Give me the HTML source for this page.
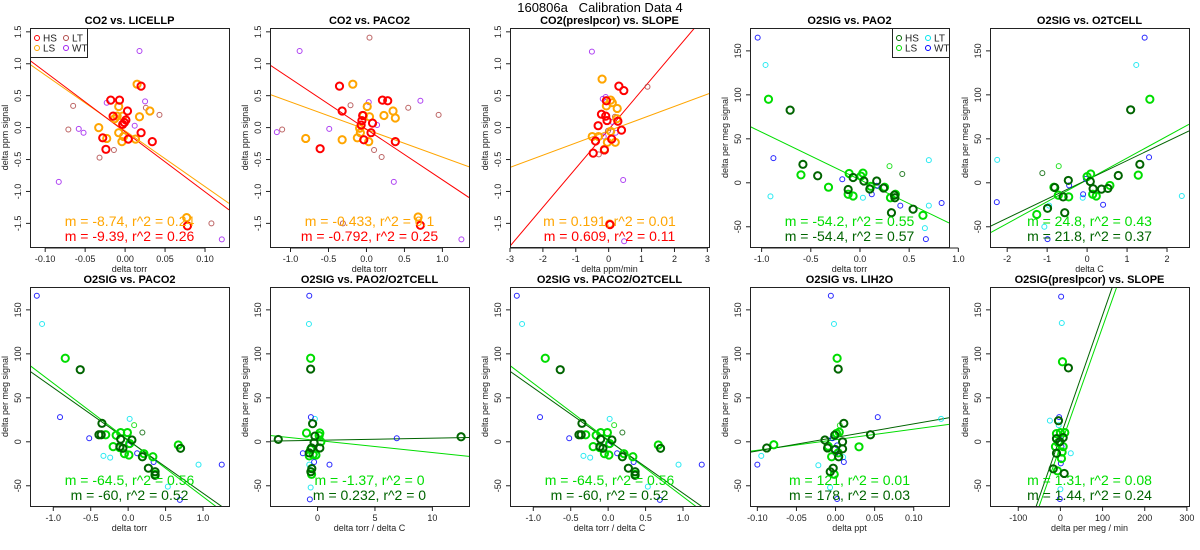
<!DOCTYPE html>
<html><head><meta charset="utf-8"><style>
html,body{margin:0;padding:0;background:#fff;width:1200px;height:550px;overflow:hidden;}
svg{display:block;font-family:"Liberation Sans",sans-serif;}
</style></head><body>
<svg id="c" width="1200" height="550" viewBox="0 0 1200 550">
<text x="600" y="12" text-anchor="middle" font-size="13" style="white-space:pre">160806a   Calibration Data 4</text>
</svg>
<script>
// ---------- data ----------
const p1_HS=[[-0.018,0.43],[-0.007,0.43],[0.020,0.65],[-0.015,0.18],[0.003,0.26],[0.001,0.12],[-0.003,0.05],[-0.001,0.08],[0.02,-0.08],[-0.028,-0.16],[-0.024,-0.34],[0.004,-0.18],[0.034,-0.22],[0.078,-1.54]];
const p1_LS=[[0.015,0.68],[-0.008,0.33],[-0.01,0.18],[-0.003,0.18],[0.018,0.17],[0.031,0.26],[-0.033,0],[-0.023,-0.17],[-0.008,-0.08],[-0.002,-0.14],[-0.004,-0.22],[0.013,-0.18],[0.077,-1.41],[-0.013,0.14]];
const p1_LT=[[-0.065,0.34],[-0.071,-0.03],[0.026,0.31],[0.043,0.2],[-0.032,-0.47],[-0.014,-0.35],[0.108,-1.5]];
const p1_WT=[[0.018,1.2],[-0.023,0.39],[0.025,0.41],[-0.058,-0.02],[-0.052,-0.08],[0.012,0.03],[-0.083,-0.85],[0.121,-1.75]];
const p1_fits=[[-8.74,-0.05],[-9.39,-0.067]];

const p2_HS=[[-0.355,0.65],[-0.32,0.26],[-0.61,-0.33],[-0.05,0.19],[-0.06,0.11],[-0.07,0.04],[0.08,0.07],[0.06,-0.08],[-0.035,-0.19],[0.21,0.43],[0.28,0.42],[0.38,-0.22],[0.71,-1.53]];
const p2_LS=[[-0.18,0.68],[0.01,0.33],[0.04,0.17],[-0.04,0.19],[0.23,0.19],[0.35,0.26],[0.38,0.15],[-0.09,-0.01],[-0.08,-0.08],[-0.12,-0.16],[0.03,-0.22],[-0.32,-0.19],[-0.8,-0.17],[0.68,-1.4]];
const p2_LT=[[0.04,1.41],[-0.21,0.35],[0.55,0.31],[0.95,0.2],[-1.11,-0.03],[0.2,-0.46],[0.1,-0.35],[-0.31,-1.5]];
const p2_WT=[[-0.88,1.2],[0.03,0.4],[0.71,0.42],[0.14,0.04],[-0.49,-0.02],[-1.18,-0.07],[0.36,-0.85],[1.25,-1.75]];
const p2_fits=[[-0.433,-0.03],[-0.792,-0.026]];

const p3_HS=[[0.31,0.65],[0.46,0.58],[-0.07,0.42],[-0.22,0.21],[-0.09,0.18],[-0.05,0.11],[-0.32,0.03],[0.28,0.1],[0.39,-0.04],[0.09,-0.18],[-0.4,-0.21],[-0.13,-0.35],[-0.47,-0.4],[0.04,-1.52]];
const p3_LS=[[-0.2,0.76],[0.06,0.43],[0.11,0.39],[-0.07,0.34],[0.26,0.3],[0.25,0.14],[0.06,-0.06],[-0.5,-0.14],[-0.31,-0.14],[-0.04,-0.23],[0.2,-0.23],[-0.13,-0.34],[0.03,-1.51]];
const p3_LT=[[1.18,0.64],[0.19,0.17],[-0.02,-0.05],[-0.3,-0.42]];
const p3_WT=[[-0.51,1.19],[-0.09,0.48],[-0.18,0.45],[0.11,0.09],[0.21,-0.08],[-0.15,-0.14],[0.44,-0.82],[0.47,-1.78]];
const p3_fits=[[0.191,-0.05],[0.609,-0.03]];

const p4_HS=[[-0.71,82.6],[-0.58,21],[-0.43,8],[-0.07,6],[-0.12,-7.6],[0.04,2],[0.1,-7],[0.17,2],[0.24,-6],[0.35,-14],[0.355,-17],[0.32,-34],[0.54,-30]];
const p4_LS=[[-0.93,95],[-0.6,9],[-0.32,-5],[-0.11,10.6],[-0.12,-13],[-0.07,-15],[0.01,7.6],[0.03,11],[0.11,-4],[0.25,-5],[0.31,-17],[0.36,-13],[0.64,-37]];
const p4_LT=[[-0.96,134],[-0.91,-15.5],[0.03,-17],[0.70,25.8],[0.70,-26],[0.66,-51.5]];
const p4_WT=[[-1.04,165],[-0.88,28],[-0.18,4],[0.12,-13],[0.17,-3.4],[0.41,-26],[0.83,-23],[0.67,-64]];
const p4_X=[[0.30,19]];
const p4_Y=[[0.43,10]];
const p4_fits=[[-54.2,3.4]];

const p5_HS=[[1.09,83],[1.32,21],[0.78,8.3],[-0.47,2.7],[0.08,1.5],[0.15,-6.8],[0.36,-7.2],[0.52,-6.4],[-0.81,-5.3],[-0.6,-16],[-0.99,-29],[-0.56,-34]];
const p5_LS=[[1.57,95],[1.28,8.7],[0.09,10],[0.0,7],[-0.83,-5],[-0.72,-14],[-0.46,-16],[0.14,-13],[0.23,-15],[0.57,-3],[-1.26,-36]];
const p5_LT=[[-2.25,26],[1.23,134],[2.37,-15],[-0.11,-17],[-0.95,-26],[-1.07,-50]];
const p5_WT=[[1.44,165],[1.55,29],[-2.26,-22],[-0.45,-3],[-0.03,4.5],[-0.1,-13],[0.4,-25],[-0.99,-64]];
const p5_X=[[-0.71,19]];
const p5_Y=[[-1.12,11]];
const p5_fits=[[24.8,3.3],[21.8,3.4]];

const p6_HS=[[-0.64,82],[-0.35,21],[-0.39,8],[-0.36,8],[-0.1,3],[0.05,2],[-0.11,-5.5],[-0.07,-7.4],[0.19,-17],[0.27,-30],[0.36,-34],[0.36,-38],[0.70,-7.4]];
const p6_LS=[[-0.84,95],[-0.3,8],[-0.16,7.4],[-0.1,10.5],[-0.01,10.5],[-0.2,-5.5],[-0.11,-6.7],[-0.05,-13.5],[0.01,-15],[0.02,-2],[0.21,-13.5],[0.33,-17],[0.36,-37],[0.67,-3.6]];
const p6_LT=[[-1.15,134],[0.02,26],[-0.33,-16],[-0.24,-18],[0.53,-51],[0.94,-26]];
const p6_WT=[[-1.22,166],[-0.91,28],[-0.52,4],[0.01,-3.6],[0.12,-13],[0.34,-23],[0.69,-66],[1.25,-26]];
const p6_X=[[0.08,19]];
const p6_Y=[[0.19,10.5]];
const p6_fits=[[-64.5,2.1],[-60,1.5]];

const p7_HS=[[-3.42,2.7],[12.5,5.7],[-0.6,82.7],[-0.43,20.6],[-0.52,-7],[-0.3,-1],[0.2,-7],[-0.5,-30.5],[-0.58,-34],[-0.72,-12.6],[-0.23,6.5]];
const p7_LS=[[-0.6,95],[-0.96,10],[0.2,10],[0.14,7],[-0.72,-16],[-0.38,-14.5],[-0.14,-15],[0.29,0],[-0.52,-37],[-0.6,-8.8]];
const p7_LT=[[-0.75,134],[-0.23,26],[-0.72,-26],[-0.6,-52],[-0.23,-14.5]];
const p7_WT=[[-0.72,166],[-0.58,28],[6.9,4],[-1.28,-13],[-0.3,-23],[1.04,-26],[-0.67,-65.5]];
const p7_fits=[[-1.37,1.5],[0.232,1.76]];

const p9_HS=[[-0.088,-7],[0.0034,82.7],[0.0106,21],[-0.0136,2],[-0.0102,-7],[-0.0004,-8.8],[0.009,-8],[0.009,0],[-0.003,-30],[-0.0068,-34],[0.004,-17],[0.0447,8],[-0.001,7.6]];
const p9_LS=[[-0.079,-3.4],[0.002,95],[0.0013,9.5],[0.0047,11],[-0.005,-17],[-0.0017,-37],[0.03,-5.7],[-0.0094,-5],[0.0034,-12.6]];
const p9_LT=[[-0.002,134],[-0.095,-16],[-0.022,-26.7],[-0.007,-52],[0.135,26],[0.0098,-17.5]];
const p9_WT=[[-0.006,166],[-0.1,-26],[0.054,28],[-0.004,4],[0.002,-4],[0,-13],[0.0106,-23],[0.002,-65]];
const p9_X=[[0.0055,18.7]];
const p9_fits=[[120,2.4],[154,5.0]];

const p10_HS=[[19,84],[-4.6,24],[-9.3,3.6],[6.5,4.8],[-9.3,-13],[-17,-30.7],[9,-36],[-1.4,0]];
const p10_LS=[[4.9,91],[-9.3,9.3],[0,10.5],[10.4,10.5],[-11.7,-5.5],[6.5,-5.5],[4,-11.6],[2.5,-19],[-7,-33],[-5,-1]];
const p10_LT=[[3.3,135],[-25,24],[-4,19],[24.6,-13],[0,-54]];
const p10_WT=[[1.7,165],[-3,28],[-1.4,3.6],[2.5,-5.5],[1,-24.6],[-1.4,-65]];
const p10_fits=[[1.355,-5],[1.38,6]];

const co2Ticks=[-1.5,-1.0,-0.5,0.0,0.5,1.0,1.5];
const o2Ticks=[-50,0,50,100,150];
const co2Labels=["-1.5","-1.0","-0.5","0.0","0.5","1.0","1.5"];
const o2Labels=["-50","0","50","100","150"];

const p1_xt=[-0.10,-0.05,0.00,0.05,0.10], p1_xl=["-0.10","-0.05","0.00","0.05","0.10"];
const p2_xt=[-1.0,-0.5,0,0.5,1.0], p2_xl=["-1.0","-0.5","0.0","0.5","1.0"];
const p3_xt=[-3,-2,-1,0,1,2,3], p3_xl=["-3","-2","-1","0","1","2","3"];
const p5_xt=[-2,-1,0,1,2], p5_xl=["-2","-1","0","1","2"];
const p7_xt=[0,5,10], p7_xl=["0","5","10"];
const p9_xt=[-0.10,-0.05,0.00,0.05,0.10], p9_xl=["-0.10","-0.05","0.00","0.05","0.10"];
const p10_xt=[-100,0,100,200,300], p10_xl=["-100","0","100","200","300"];

const fitTexts1=["m = -8.74, r^2 = 0.24","m = -9.39, r^2 = 0.26"];
const fitTexts2=["m = -0.433, r^2 = 0.1","m = -0.792, r^2 = 0.25"];
const fitTexts3=["m = 0.191, r^2 = 0.01","m = 0.609, r^2 = 0.11"];
const fitTexts4=["m = -54.2, r^2 = 0.55","m = -54.4, r^2 = 0.57"];
const fitTexts5=["m = 24.8, r^2 = 0.43","m = 21.8, r^2 = 0.37"];
const fitTexts6=["m = -64.5, r^2 = 0.56","m = -60, r^2 = 0.52"];
const fitTexts7=["m = -1.37, r^2 = 0","m = 0.232, r^2 = 0"];
const fitTexts9=["m = 121, r^2 = 0.01","m = 178, r^2 = 0.03"];
const fitTexts10=["m = 1.31, r^2 = 0.08","m = 1.44, r^2 = 0.24"];

// ---------- rendering ----------
const NS="http://www.w3.org/2000/svg";
const svg=document.getElementById('c');
function mk(tag,attrs,parent){const e=document.createElementNS(NS,tag);for(const k in attrs)e.setAttribute(k,attrs[k]);(parent||svg).appendChild(e);return e;}

const RED='#ff0000',ORG='#ffa500',BRN='#b04848',PUR='#a020f0';
const DGR='#006400',BGR='#00dd00',CYN='#00e5ee',BLU='#0000ff';
const CO2Y=[-1.87,1.56], O2Y=[-73,176];

const panels=[
 {c:0,r:0,title:'CO2 vs. LICELLP',xlab:'delta torr',ylab:'delta ppm signal',xlim:[-0.119,0.13],ylim:CO2Y,xt:p1_xt,xl:p1_xl,yt:co2Ticks,yl:co2Labels,
  groups:[[p1_LT,BRN,0],[p1_WT,PUR,0],[p1_LS,ORG,1],[p1_HS,RED,1]],fits:[[p1_fits[0],ORG],[p1_fits[1],RED]],txt:[[fitTexts1[0],ORG],[fitTexts1[1],RED]],legend:'left'},
 {c:1,r:0,title:'CO2 vs. PACO2',xlab:'delta torr',ylab:'delta ppm signal',xlim:[-1.27,1.35],ylim:CO2Y,xt:p2_xt,xl:p2_xl,yt:co2Ticks,yl:co2Labels,
  groups:[[p2_LT,BRN,0],[p2_WT,PUR,0],[p2_LS,ORG,1],[p2_HS,RED,1]],fits:[[p2_fits[0],ORG],[p2_fits[1],RED]],txt:[[fitTexts2[0],ORG],[fitTexts2[1],RED]]},
 {c:2,r:0,title:'CO2(preslpcor) vs. SLOPE',xlab:'delta ppm/min',ylab:'delta ppm signal',xlim:[-3.0,3.05],ylim:CO2Y,xt:p3_xt,xl:p3_xl,yt:co2Ticks,yl:co2Labels,
  groups:[[p3_LT,BRN,0],[p3_WT,PUR,0],[p3_LS,ORG,1],[p3_HS,RED,1]],fits:[[p3_fits[0],ORG],[p3_fits[1],RED]],txt:[[fitTexts3[0],ORG],[fitTexts3[1],RED]]},
 {c:3,r:0,title:'O2SIG vs. PAO2',xlab:'delta torr',ylab:'delta per meg signal',xlim:[-1.118,0.905],ylim:O2Y,xt:p2_xt,xl:p2_xl,yt:o2Ticks,yl:o2Labels,
  groups:[[p4_LT,CYN,0],[p4_WT,BLU,0],[p4_X,BGR,0],[p4_Y,DGR,0],[p4_LS,BGR,1],[p4_HS,DGR,1]],fits:[[p4_fits[0],BGR]],txt:[[fitTexts4[0],BGR],[fitTexts4[1],DGR]],legend:'right'},
 {c:4,r:0,title:'O2SIG vs. O2TCELL',xlab:'delta C',ylab:'delta per meg signal',xlim:[-2.43,2.55],ylim:O2Y,xt:p5_xt,xl:p5_xl,yt:o2Ticks,yl:o2Labels,
  groups:[[p5_LT,CYN,0],[p5_WT,BLU,0],[p5_X,BGR,0],[p5_Y,DGR,0],[p5_LS,BGR,1],[p5_HS,DGR,1]],fits:[[p5_fits[0],BGR],[p5_fits[1],DGR]],txt:[[fitTexts5[0],BGR],[fitTexts5[1],DGR]]},
 {c:0,r:1,title:'O2SIG vs. PACO2',xlab:'delta torr',ylab:'delta per meg signal',xlim:[-1.311,1.347],ylim:O2Y,xt:p2_xt,xl:p2_xl,yt:o2Ticks,yl:o2Labels,
  groups:[[p6_LT,CYN,0],[p6_WT,BLU,0],[p6_X,BGR,0],[p6_Y,DGR,0],[p6_LS,BGR,1],[p6_HS,DGR,1]],fits:[[p6_fits[0],BGR],[p6_fits[1],DGR]],txt:[[fitTexts6[0],BGR],[fitTexts6[1],DGR]]},
 {c:1,r:1,title:'O2SIG vs. PAO2/O2TCELL',xlab:'delta torr / delta C',ylab:'delta per meg signal',xlim:[-4.14,13.19],ylim:O2Y,xt:p7_xt,xl:p7_xl,yt:o2Ticks,yl:o2Labels,
  groups:[[p7_LT,CYN,0],[p7_WT,BLU,0],[p7_LS,BGR,1],[p7_HS,DGR,1]],fits:[[p7_fits[0],BGR],[p7_fits[1],DGR]],txt:[[fitTexts7[0],BGR],[fitTexts7[1],DGR]]},
 {c:2,r:1,title:'O2SIG vs. PACO2/O2TCELL',xlab:'delta torr / delta C',ylab:'delta per meg signal',xlim:[-1.311,1.347],ylim:O2Y,xt:p2_xt,xl:p2_xl,yt:o2Ticks,yl:o2Labels,
  groups:[[p6_LT,CYN,0],[p6_WT,BLU,0],[p6_X,BGR,0],[p6_Y,DGR,0],[p6_LS,BGR,1],[p6_HS,DGR,1]],fits:[[p6_fits[0],BGR],[p6_fits[1],DGR]],txt:[[fitTexts6[0],BGR],[fitTexts6[1],DGR]]},
 {c:3,r:1,title:'O2SIG vs. LIH2O',xlab:'delta ppt',ylab:'delta per meg signal',xlim:[-0.1094,0.1451],ylim:O2Y,xt:p9_xt,xl:p9_xl,yt:o2Ticks,yl:o2Labels,
  groups:[[p9_LT,CYN,0],[p9_WT,BLU,0],[p9_X,BGR,0],[p9_LS,BGR,1],[p9_HS,DGR,1]],fits:[[p9_fits[0],BGR],[p9_fits[1],DGR]],txt:[[fitTexts9[0],BGR],[fitTexts9[1],DGR]]},
 {c:4,r:1,title:'O2SIG(preslpcor) vs. SLOPE',xlab:'delta per meg / min',ylab:'delta per meg signal',xlim:[-167,305],ylim:O2Y,xt:p10_xt,xl:p10_xl,yt:o2Ticks,yl:o2Labels,
  groups:[[p10_LT,CYN,0],[p10_WT,BLU,0],[p10_LS,BGR,1],[p10_HS,DGR,1]],fits:[[p10_fits[0],BGR],[p10_fits[1],DGR]],txt:[[fitTexts10[0],BGR],[fitTexts10[1],DGR]]}
];

panels.forEach((p,i)=>{
  const L=30+240*p.c, T=p.r?287:28, W=199, H=219, R=L+W, B=T+H;
  const g=mk('g',{});
  
  
  const sx=v=>L+(v-p.xlim[0])/(p.xlim[1]-p.xlim[0])*W;
  const sy=v=>B-(v-p.ylim[0])/(p.ylim[1]-p.ylim[0])*H;
  const cp='clip'+i;
  const cl=mk('clipPath',{id:cp},g); mk('rect',{x:L,y:T,width:W,height:H},cl);
  const t=mk('text',{x:L+W/2,y:T-4,'text-anchor':'middle','font-size':11,'font-weight':'bold'},g);
  t.textContent=p.title;
  
  
  p.fits.forEach(f=>{
    const [m,a]=f[0];
    const ln=mk('line',{x1:sx(p.xlim[0]),y1:sy(a+m*p.xlim[0]),x2:sx(p.xlim[1]),y2:sy(a+m*p.xlim[1]),stroke:f[1],'stroke-width':1,'clip-path':'url(#'+cp+')'},g);
    
    
  });
  p.groups.forEach(gr=>{
    const [pts,col,thick]=gr;
    pts.forEach(pt=>{
      const c=mk('circle',{cx:sx(pt[0]),cy:sy(pt[1]),r:thick?3.6:2.5,fill:'none',stroke:col,'stroke-width':thick?2:1,'stroke-opacity':thick?1:0.85,'clip-path':'url(#'+cp+')'},g);
      
      
    });
  });
  p.txt.forEach((tx,k)=>{
    const e=mk('text',{x:L+W/2,y:B-21+k*15,'text-anchor':'middle','font-size':14,fill:tx[1]},g);
    e.textContent=tx[0];
    
    
  });
  const bx=mk('rect',{x:L+0.5,y:T+0.5,width:W,height:H,fill:'none',stroke:'#222','stroke-width':1},g);
  
  
  p.xt.forEach((v,k)=>{
    const x=sx(v);
    const tk=mk('line',{x1:x,y1:B+1,x2:x,y2:B+5,stroke:'#222'},g);
    
    
    const lb=mk('text',{x:x,y:B+15,'text-anchor':'middle','font-size':9,fill:'#222'},g);
    lb.textContent=p.xl[k];
    
    
  });
  mk('line',{x1:sx(p.xt[0]),y1:B+1,x2:sx(p.xt[p.xt.length-1]),y2:B+1,stroke:'#222'},g);
  p.yt.forEach((v,k)=>{
    const y=sy(v);
    const tk=mk('line',{x1:L-4,y1:y,x2:L,y2:y,stroke:'#222'},g);
    
    
    const lb=mk('text',{x:L-9,y:y,'text-anchor':'middle','font-size':9,fill:'#222',transform:'rotate(-90 '+(L-9)+' '+y+')'},g);
    lb.textContent=p.yl[k];
    
    
  });
  const xt=mk('text',{x:L+W/2,y:B+25,'text-anchor':'middle','font-size':9,fill:'#222'},g);
  xt.textContent=p.xlab;
  
  
  const yx=L-22, yy=T+H/2;
  const yt=mk('text',{x:yx,y:yy,'text-anchor':'middle','font-size':9,fill:'#222',transform:'rotate(-90 '+yx+' '+yy+')'},g);
  yt.textContent=p.ylab;
  
  
  if(p.legend){
    const lx=p.legend==='left'?L:R-57;
    const lg=mk('g',{},g);
    
    
    mk('rect',{x:lx+0.5,y:T+0.5,width:57,height:29,fill:'#fff',stroke:'#222'},lg);
    const co2=p.legend==='left';
    const ents=co2?[['HS',RED,0,0],['LT',BRN,1,0],['LS',ORG,0,1],['WT',PUR,1,1]]:[['HS',DGR,0,0],['LT',CYN,1,0],['LS',BGR,0,1],['WT',BLU,1,1]];
    ents.forEach(en=>{
      const ex=lx+7+en[2]*29, ey=T+10+en[3]*10;
      const ci=mk('circle',{cx:ex,cy:ey,r:2.5,fill:'none',stroke:en[1],'stroke-width':1},lg);
      
      
      const tt=mk('text',{x:ex+6,y:ey+3.5,'font-size':10,fill:'#222'},lg);
      tt.textContent=en[0];
      
      
    });
  }
});
</script>
</body></html>
